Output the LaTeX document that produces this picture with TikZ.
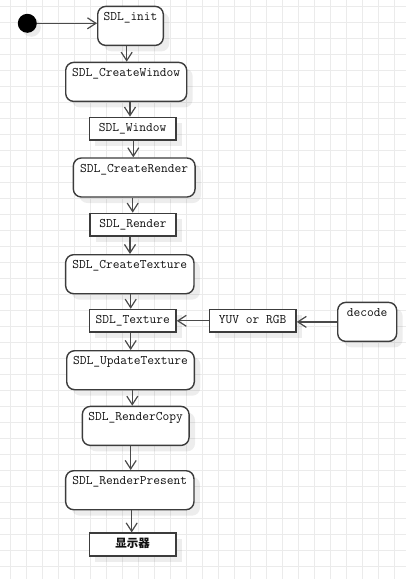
\documentclass[tikz,border=0pt]{standalone}
\usepackage{fontspec}
\newfontfamily\cjk{Noto Sans CJK SC}
\usetikzlibrary{arrows.meta,shadows,calc}
\definecolor{edge}{HTML}{3C3C3C}
\definecolor{wire}{HTML}{4A4A4A}
\definecolor{ink}{HTML}{111111}
\definecolor{gridc}{HTML}{EBEBEB}
\begin{document}
\begin{tikzpicture}[x=1pt,y=-1pt,
  font=\ttfamily\fontsize{13.1}{14}\selectfont,
  boxshadow/.style={drop shadow={shadow xshift=6pt,shadow yshift=-6pt,fill=black,opacity=0.07}},
  state/.style={draw=edge,line width=1.4pt,rounded corners=8pt,fill=white,boxshadow,
    minimum height=39pt,inner ysep=6pt,text height=8pt,text depth=19pt,anchor=north,text=ink},
  objbox/.style={draw=edge,line width=1.4pt,fill=white,boxshadow,minimum width=86.7pt,
    minimum height=22.7pt,inner ysep=0pt,text height=8pt,text depth=2pt,text=ink},
  flow/.style={draw=wire,line width=1.2pt,-{Straight Barb[length=8.5pt,width=11pt,line width=1.2pt]}},
  gridline/.style={draw=gridc,line width=0.9pt}
]
\useasboundingbox (0,0) rectangle (406,579);
\fill[white] (0,0) rectangle (406,579);

% background grid
\foreach \x in {10.7,26.7,...,406} \draw[gridline] (\x,0) -- (\x,579);
\foreach \y in {6.7,22.7,...,579} \draw[gridline] (0,\y) -- (406,\y);

% initial state
\node[circle,fill=black,minimum size=19pt,inner sep=0pt,
  drop shadow={shadow xshift=4pt,shadow yshift=-4pt,fill=black,opacity=0.08}] (start) at (27.3,23.3) {};

% activity states and objects
\node[state,minimum width=65.6pt]  (init) at (130.5,5.7)   {SDL\_init};
\node[state,minimum width=121pt]   (cw)   at (126.2,61.7)  {SDL\_CreateWindow};
\node[objbox] (win) at (132.7,128.7) {SDL\_Window};
\node[state,minimum width=121.7pt] (cr)   at (134.2,157.3) {SDL\_CreateRender};
\node[objbox,minimum width=86pt] (ren) at (133,224.7) {SDL\_Render};
\node[state,minimum width=128.3pt] (ct)   at (129.8,254)   {SDL\_CreateTexture};
\node[objbox] (tex) at (132.7,320.8) {SDL\_Texture};
\node[objbox] (yuv) at (252.7,320.8) {YUV or RGB};
\node[state,minimum width=59pt]    (dec)  at (367.2,301.7) {decode};
\node[state,minimum width=127.6pt] (ut)   at (130.5,350)   {SDL\_UpdateTexture};
\node[state,minimum width=106.7pt] (rc)   at (135.7,405.7) {SDL\_RenderCopy};
\node[state,minimum width=128.3pt] (rp)   at (129.8,470)   {SDL\_RenderPresent};
\node[objbox,font=\cjk\bfseries\fontsize{11.5}{13}\selectfont] (disp) at (132.7,544.5) {显示器};

% control flow
\draw[flow] (start.east) -- (start.east -| init.west);
\draw[flow] (init.south -| 126.7,0) -- (cw.north -| 126.7,0);
\draw[flow] (cw.south -| 130,0) -- (win.north -| 130,0);
\draw[flow] (win.south -| 133.3,0) -- (cr.north -| 133.3,0);
\draw[flow] (cr.south -| 132.7,0) -- (ren.north -| 132.7,0);
\draw[flow] (ren.south -| 130,0) -- (ct.north -| 130,0);
\draw[flow] (ct.south -| 130.7,0) -- (tex.north -| 130.7,0);
\draw[flow] (tex.south -| 130.7,0) -- (ut.north -| 130.7,0);
\draw[flow] (ut.south -| 132.3,0) -- (rc.north -| 132.3,0);
\draw[flow] (rc.south -| 130.7,0) -- (rp.north -| 130.7,0);
\draw[flow] (rp.south -| 131.7,0) -- (disp.north -| 131.7,0);
\draw[flow] (dec.west) -- (dec.west -| yuv.east);
\draw[flow] (yuv.west) -- (yuv.west -| tex.east);
\end{tikzpicture}
\end{document}
